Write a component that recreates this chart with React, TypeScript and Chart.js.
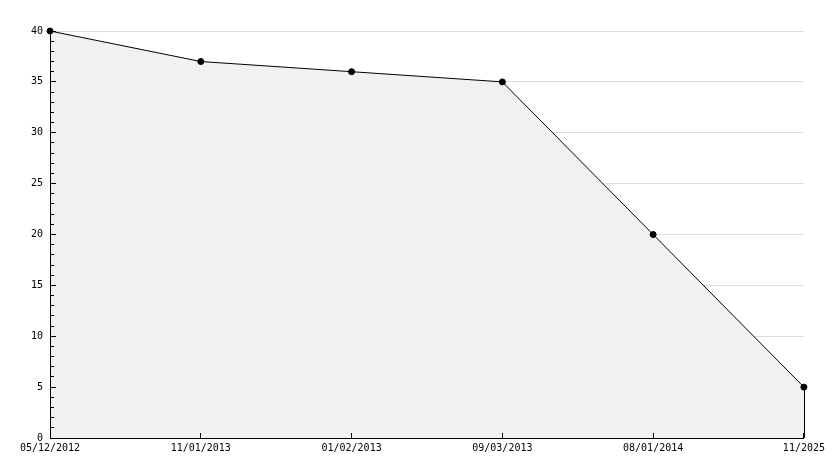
import React, { useEffect, useRef } from 'react';
import { Chart, registerables } from 'chart.js';

Chart.register(...registerables);

const categories = ['05/12/2012', '11/01/2013', '01/02/2013', '09/03/2013', '08/01/2014', '11/2025'];
const values = [40, 37, 36, 35, 20, 5];
const yMin = 0;
const yMax = 40;
const yMajorStep = 5;
const yMinorStep = 1;

const font = { family: '"DejaVu Sans Mono", monospace', size: 10 };

const dropLine = {
  id: 'dropLine',
  afterDatasetsDraw(chart: any) {
    const meta = chart.getDatasetMeta(0);
    const last = meta.data[meta.data.length - 1];
    if (!last) return;
    const ctx = chart.ctx;
    ctx.save();
    ctx.strokeStyle = '#000';
    ctx.lineWidth = 1;
    ctx.beginPath();
    const x = Math.round(last.x) + 0.5;
    ctx.moveTo(x, last.y);
    ctx.lineTo(x, chart.chartArea.bottom);
    ctx.stroke();
    ctx.restore();
  },
};

export default function App() {
  const ref = useRef<HTMLCanvasElement | null>(null);
  useEffect(() => {
    document.body.style.margin = '0';
    const chart = new Chart(ref.current as HTMLCanvasElement, {
      type: 'line',
      data: {
        labels: categories,
        datasets: [
          {
            data: values,
            borderColor: '#000',
            borderWidth: 1,
            backgroundColor: '#f1f1f1',
            fill: 'origin',
            tension: 0,
            pointRadius: 3,
            pointBackgroundColor: '#000',
            pointBorderColor: '#000',
            pointBorderWidth: 1,
            clip: false as any,
          },
        ],
      },
      options: {
        animation: false,
        responsive: false,
        layout: { padding: { top: 31, right: 29, left: 0, bottom: 0 } },
        plugins: { legend: { display: false }, tooltip: { enabled: false } },
        scales: {
          x: {
            type: 'category',
            offset: false,
            border: { color: '#000', width: 1, z: 1 },
            grid: { drawOnChartArea: false, tickLength: -5, tickColor: '#000', z: 1 },
            ticks: { padding: 9, maxRotation: 0, autoSkip: false, color: '#000', font },
            afterFit: (s: any) => { s.height = 30; },
          },
          y: {
            min: yMin,
            max: yMax,
            weight: 2,
            border: { display: false },
            grid: { color: '#dcdcdc', drawTicks: false },
            ticks: { stepSize: yMajorStep, padding: 7, color: '#000', font },
            afterFit: (s: any) => { s.width = 50; },
          },
          yMajor: {
            position: 'left',
            min: yMin,
            max: yMax,
            weight: 1,
            border: { color: '#000', width: 1, z: 1 },
            grid: { drawOnChartArea: false, tickLength: -6, tickColor: '#000', z: 1 },
            ticks: { stepSize: yMajorStep, display: false },
            afterFit: (s: any) => { s.width = 0; },
          },
          yMinor: {
            position: 'left',
            min: yMin,
            max: yMax,
            weight: 0,
            border: { display: false },
            grid: { drawOnChartArea: false, tickLength: -4, tickColor: '#000', z: 1 },
            ticks: { stepSize: yMinorStep, display: false },
            afterFit: (s: any) => { s.width = 0; },
          },
        },
      } as any,
      plugins: [dropLine],
    });
    return () => chart.destroy();
  }, []);
  return (
    <canvas
      ref={ref}
      width={834}
      height={468}
      style={{ position: 'absolute', left: 0, top: 0, width: 834, height: 468 }}
    />
  );
}
